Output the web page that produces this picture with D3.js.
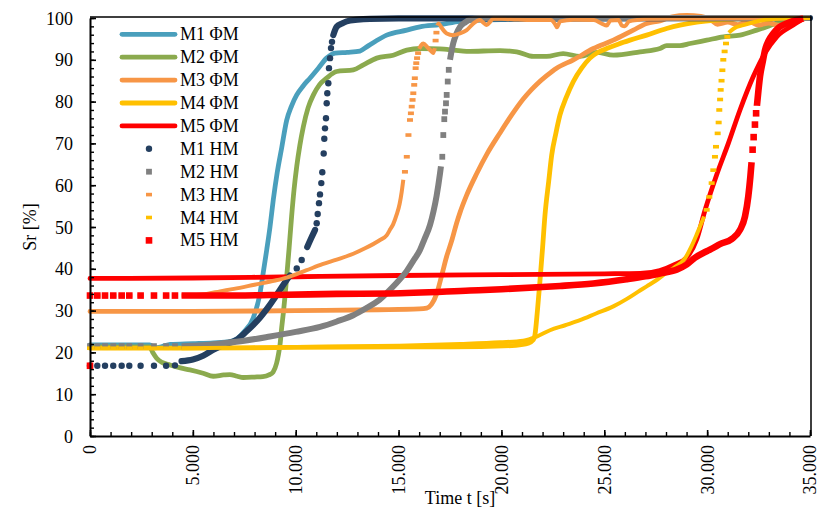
<!DOCTYPE html>
<html>
<head>
<meta charset="utf-8">
<script src="https://cdn.jsdelivr.net/npm/d3@7"></script>
<style>
  html, body { margin: 0; padding: 0; background: #fff; }
  svg { display: block; font-family: "Liberation Serif", "Times New Roman", serif; }
</style>
</head>
<body>
<svg id="chart" width="821" height="508"></svg>
<script>
// ---- axes ----
const xTickValues = [0, 5000, 10000, 15000, 20000, 25000, 30000, 35000];
const xTickLabels = ["0", "5.000", "10.000", "15.000", "20.000", "25.000", "30.000", "35.000"];
const yTickValues = [0, 10, 20, 30, 40, 50, 60, 70, 80, 90, 100];
const xTitle = "Time t [s]";
const yTitle = "Sr [%]";

// ---- series names ----
const phiNames = ["M1 ΦM", "M2 ΦM", "M3 ΦM", "M4 ΦM", "M5 ΦM"];
const hmNames = ["M1 HM", "M2 HM", "M3 HM", "M4 HM", "M5 HM"];

// ---- ΦM series: [time s, Sr %] ----
const m1Phi = [[0,21.8],[1000,21.8],[2000,21.8],[2900,21.8],[3160,21.1],[3500,21.4],[3900,21.9],[5000,22.1],[6000,22.3],[6800,22.6],[7130,23.2],[7500,25],[7940,28.3],[8260,34],[8420,39],[8590,44.5],[8750,50],[8910,56.5],[9100,63],[9320,69],[9560,75.5],[9800,79],[10050,81.6],[10370,83.8],[10690,85.6],[11100,88],[11500,90.4],[11910,91.6],[12500,91.8],[13120,92.1],[13450,93.1],[13900,94.5],[14420,95.9],[15400,97.1],[16040,97.9],[17000,98.4],[18000,99.2],[20000,99.6],[25000,99.8],[35000,100]];
const m2Phi = [[0,21.3],[2900,21.3],[3050,20],[3240,18.6],[3500,17.6],[3890,17.0],[4400,16.3],[4860,15.8],[5500,15.0],[5990,14.3],[6500,14.6],[6800,14.7],[7150,14.3],[7450,14.0],[8000,14.1],[8400,14.2],[8700,14.6],[8900,15.3],[9070,17.4],[9160,19.5],[9240,22],[9320,26],[9400,29.5],[9480,33.5],[9560,38],[9680,45],[9800,52.5],[9920,59],[10050,64.5],[10200,69.5],[10370,74],[10600,78.5],[10860,81.6],[11150,84],[11500,85.6],[11990,87.2],[12800,87.6],[13290,88.8],[13940,90.4],[14740,91.1],[15400,92.3],[16040,92.7],[17000,92.6],[17700,92.3],[18310,92.0],[19930,92.2],[20740,91.9],[21550,90.8],[22200,90.8],[23000,91.5],[23820,90.8],[24630,91.8],[25440,91.1],[26740,91.9],[27710,92.7],[28030,93.4],[28680,93.4],[29170,93.9],[29980,94.7],[30790,95.5],[31600,95.9],[32410,97.1],[32900,97.9],[33500,99],[34300,99.8]];
const m3Phi = [[0,29.8],[5000,29.8],[10000,30.0],[14000,30.2],[16000,30.4],[16370,30.6],[16600,31.5],[16850,34],[17100,38.5],[17340,43],[17600,47],[17820,50.9],[17990,53.5],[18300,57.5],[18800,62.8],[19300,67.5],[19930,72.5],[20500,76.8],[21060,80.6],[21450,82.8],[21710,84.1],[22200,86.2],[22680,88],[23500,90],[24470,92.7],[25440,94.7],[26410,97.1],[27060,98.7],[27700,99.3],[28300,100.3],[29000,100.6],[29700,100.4],[30200,99.5],[30500,98.5],[31000,99],[31500,98.4],[32000,99.2],[32500,98.3],[33000,98.8],[33500,98.2],[34000,99],[34500,99.3]];
const m4Phi = [[0,21.0],[5000,21.0],[10000,21.2],[15000,21.3],[19000,21.4],[20700,21.7],[21300,22.2],[21550,23.0],[21630,24.2],[21750,30],[21870,36.9],[22000,45],[22118,52.9],[22300,61],[22443,67.2],[22650,72.5],[22847,76.8],[23150,81],[23494,84.8],[23900,88],[24305,90.4],[24700,91.8],[25117,92.7],[25700,93.8],[26250,94.7],[27060,95.9],[28030,97.5],[28680,98.3],[29500,99],[30460,99.5],[31500,99.8],[35000,100]];
const m5Phi = [[0,37.7],[5000,37.8],[10000,38.1],[15000,38.4],[20000,38.6],[25000,38.8],[26740,38.9],[27700,39.6],[28355,40.9],[29006,42.7],[29492,47],[29896,54],[30464,62.5],[31030,70],[31597,78],[32243,86],[32812,91.6],[33380,95.5],[34187,98.3],[34600,99.6],[34800,99.9]];

// ---- HM series: isolated readings and dense runs ----
const m1HmDots = [[0,16.8],[355,16.8],[730,16.8],[1130,16.8],[1540,16.8],[1910,16.8],[2460,16.8],[3110,16.8],[3700,16.8],[4130,16.9],[10050,40.1],[10290,42.1],[11020,50.9],[11068,53.1],[11132,55.7],[11180,57.8],[11244,60.5],[11293,63.1],[11360,67.6],[11390,71.1],[11424,73.6],[11472,76.0],[11506,79.6],[11536,82.0],[11585,84.4],[11618,88.0],[11667,90.4],[11715,92.8],[11764,94.3]];
const m1HmRuns = [
  [[4450,17.9],[5000,18.3],[5500,19.2],[5990,20.6],[6480,21.8],[7130,23.0],[7600,25.0],[7940,26.6],[8260,28.3],[8600,30.4],[9000,33.2],[9240,35.0],[9560,37.3],[9720,38.4]],
  [[10560,45.2],[10750,47.3],[10940,49.3]],
  [[11827,95.9],[11992,97.9],[12250,98.7],[12478,99.2],[13000,99.6],[13611,99.8],[15000,99.9],[35000,100]]
];
const m2HmDots = [[0,21.5],[355,21.5],[730,21.5],[1130,21.5],[1540,21.5],[1910,21.5],[2460,21.5],[3110,21.5],[3700,21.5],[4130,21.5],[17125,66.8],[17174,72],[17222,75.8],[17257,77.6],[17305,79.6],[17339,81.6],[17390,84.8],[17440,87.6]];
const m2HmRuns = [
  [[4450,21.5],[5500,21.7],[6480,22.2],[7500,22.8],[8750,23.8],[10000,24.9],[11180,26.1],[12000,27.4],[12800,28.9],[13500,30.8],[14000,32.3],[14420,34.2],[14900,36.6],[15400,39.5],[15700,41.8],[16040,44.5],[16250,47],[16530,50.5],[16700,53.8],[16850,57.5],[17014,62.8],[17060,64.5]],
  [[17500,90],[17580,92.2],[17660,94],[17820,96.3],[17986,97.9],[18250,99],[18472,99.6],[18958,100],[35000,100]]
];
const m3HmDots = [[0,33.6],[355,33.6],[730,33.6],[1130,33.6],[1540,33.6],[1910,33.6],[2460,33.6],[3110,33.6],[3700,33.6],[4130,33.6],[15310,63.2],[15400,66.8],[15480,72],[15555,75.6],[15600,77.2],[15640,78.8],[15680,80.4],[15716,82],[15760,84],[15790,85.6],[15830,88],[15860,89.2],[15900,90.4],[15950,91.6],[16800,94.6],[16840,96.5]];
const m3HmRuns = [
  [[4450,33.6],[5670,34.0],[6320,34.6],[7000,35.2],[8000,36.2],[9000,37.2],[9560,37.9],[10500,39.6],[11300,41.1],[11990,42.2],[12800,43.6],[13370,44.9],[14100,46.9],[14420,48],[14600,49.5],[14740,50.7],[14910,53],[15050,55.5],[15152,58.4],[15230,61.3]],
  [[16000,92.6],[16100,93.5],[16202,93.9],[16400,93],[16600,92],[16688,91.6],[16760,92.8]],
  [[16880,98.2],[16950,98.7],[17100,97.6],[17339,96.3],[17660,95.9],[17986,96.3],[18311,97.1],[18640,98.7],[18958,99.5],[19120,98.9],[19284,98.3],[19450,99.1],[19605,99.9],[20500,99.7],[21500,99.5],[22400,99.5],[22600,98.6],[22700,97.8],[22850,99.2],[23500,99.6],[24500,99.5],[24900,98.6],[25117,98.2],[25300,99.4],[25700,99.5],[25850,98.2],[26000,98.0],[26200,99.2],[26700,99.6],[27200,99.8],[28000,99.9],[35000,100]]
];
const m4HmDots = [[0,21.0],[355,21.0],[730,21.0],[1130,21.0],[1540,21.0],[1910,21.0],[2460,21.0],[3110,21.0],[3700,21.0],[4130,21.0],[29978,54.1],[30105,57.2],[30220,60.5],[30300,63.6],[30380,66.8],[30430,69.2],[30512,72.4],[30560,75],[30590,78],[30630,80.5],[30658,82.8],[30700,85],[30740,87.5],[30785,90],[30850,92],[30917,93.9],[30980,95.5]];
const m4HmRuns = [
  [[4450,21.0],[10000,21.3],[15000,21.6],[18000,22.0],[19930,22.4],[21060,22.8],[21714,23.8],[22360,25.3],[23100,26.5],[23819,27.7],[24600,29.3],[25440,31.0],[26100,32.8],[26736,34.8],[27061,35.8],[27600,37.5],[28033,39.1],[28400,40.3],[28924,42.5],[29250,45.5],[29500,48.3],[29653,50.1],[29850,52.5]],
  [[31050,96.5],[31300,97.5],[31757,98.3],[32500,99.3],[33500,99.8],[35000,100]]
];
const m5HmDots = [[0,33.6],[355,33.6],[730,33.6],[1130,33.6],[1540,33.6],[1910,33.6],[2460,33.6],[3110,33.6],[3700,33.6],[4130,33.6],[32210,68.5],[32260,71.5],[32324,74.5],[32380,77.2],[0,16.8]];
const m5HmRuns = [
  [[4450,33.6],[6320,33.6],[9560,33.8],[12000,34.0],[14583,34.1],[18472,34.8],[20000,35.1],[22200,35.7],[22847,35.9],[24466,36.5],[26085,37.5],[27000,38.2],[27708,38.9],[28520,39.8],[29000,41],[29400,42.6],[29978,44.2],[30302,45],[30624,45.9],[31190,47.1],[31597,49.3],[31840,52.5],[32000,57.3],[32100,62],[32160,65.5]],
  [[32420,79],[32490,82.5],[32569,86],[32700,89.5],[32812,92.3],[33000,94.7],[33215,96.3],[33500,97.8],[33866,98.7],[34300,99.5],[34673,99.9]]
];

// ---- colours ----
const phiColors = ["#4A9FBC", "#8BAA4E", "#F79646", "#FFC000", "#FF0000"];
const hmColors = ["#243F60", "#808080", "#F79646", "#FFC000", "#FF0000"];

const svg = d3.select("#chart");
const W = 821, H = 508;
const plot = { left: 90, right: 810, top: 18, bottom: 436 };

const x = d3.scaleLinear().domain([0, 35000]).range([plot.left, plot.right]);
const y = d3.scaleLinear().domain([0, 100]).range([plot.bottom, plot.top]);

svg.append("rect").attr("width", W).attr("height", H).attr("fill", "#fff");

const line = d3.line().x(d => x(d[0])).y(d => y(d[1])).curve(d3.curveMonotoneX);

// ΦM curves
const phiData = [m1Phi, m2Phi, m3Phi, m4Phi, m5Phi];
const gPhi = svg.append("g");
phiData.forEach((s, i) => {
  gPhi.append("path").datum(s).attr("d", line)
    .attr("fill", "none").attr("stroke", phiColors[i])
    .attr("stroke-width", 4.8).attr("stroke-linejoin", "round").attr("stroke-linecap", "round");
});

// HM markers
const hmShapes = [
  { type: "circle", size: 3.2, band: 6.2, cap: "round" },
  { type: "square", size: 5.8, band: 6.0, cap: "butt" },
  { type: "dash", w: 6, h: 3.6, band: 4.0, cap: "butt" },
  { type: "dash", w: 6, h: 3.6, band: 4.0, cap: "butt" },
  { type: "square", size: 6.6, band: 6.6, cap: "butt" }
];

function drawMarker(g, shape, color, cx, cy) {
  if (shape.type === "circle") {
    g.append("circle").attr("cx", cx).attr("cy", cy).attr("r", shape.size).attr("fill", color);
  } else if (shape.type === "square") {
    g.append("rect").attr("x", cx - shape.size / 2).attr("y", cy - shape.size / 2)
      .attr("width", shape.size).attr("height", shape.size).attr("fill", color);
  } else {
    g.append("rect").attr("x", cx - shape.w / 2).attr("y", cy - shape.h / 2)
      .attr("width", shape.w).attr("height", shape.h).attr("fill", color);
  }
}

const hmDots = [m1HmDots, m2HmDots, m3HmDots, m4HmDots, m5HmDots];
const hmRuns = [m1HmRuns, m2HmRuns, m3HmRuns, m4HmRuns, m5HmRuns];
const gHm = svg.append("g");
hmDots.forEach((dots, i) => {
  const g = gHm.append("g");
  const shape = hmShapes[i];
  hmRuns[i].forEach(run => {
    g.append("path").datum(run).attr("d", line)
      .attr("fill", "none").attr("stroke", hmColors[i])
      .attr("stroke-width", shape.band).attr("stroke-linejoin", "round").attr("stroke-linecap", shape.cap);
  });
  dots.forEach(d => drawMarker(g, shape, hmColors[i], x(d[0]), y(d[1])));
});

// frame (top and right)
svg.append("path")
  .attr("d", `M${plot.left},${plot.top - 1}H${plot.right + 1}V${plot.bottom}`)
  .attr("fill", "none").attr("stroke", "#000").attr("stroke-width", 1.5);

// x axis
const fontSize = 18;
const gx = svg.append("g").attr("transform", `translate(0,${plot.bottom})`);
gx.call(d3.axisBottom(x).tickValues(d3.range(0, 35001, 1000)).tickSize(-4).tickSizeOuter(0).tickFormat(""));
gx.select(".domain").remove();
gx.selectAll(".tick line").attr("stroke", "#000").attr("stroke-width", 1.4);
const gxMajor = svg.append("g").attr("transform", `translate(0,${plot.bottom})`);
gxMajor.call(d3.axisBottom(x).tickValues(xTickValues).tickSize(-6).tickSizeOuter(0)
  .tickFormat((d, i) => xTickLabels[i]));
gxMajor.select(".domain").attr("stroke", "#000").attr("stroke-width", 2);
gxMajor.selectAll(".tick line").attr("stroke", "#000").attr("stroke-width", 1.6);
gxMajor.selectAll(".tick text")
  .attr("font-family", "Liberation Serif").attr("font-size", fontSize).attr("fill", "#000")
  .attr("text-anchor", "end").attr("transform", "rotate(-90)")
  .attr("x", -9).attr("y", 0).attr("dy", "0.33em");

// y axis
const gy = svg.append("g").attr("transform", `translate(${plot.left},0)`);
gy.call(d3.axisLeft(y).tickValues(d3.range(0, 101, 2)).tickSize(-4).tickSizeOuter(0).tickFormat(""));
gy.select(".domain").remove();
gy.selectAll(".tick line").attr("stroke", "#000").attr("stroke-width", 1.4);
const gyMajor = svg.append("g").attr("transform", `translate(${plot.left},0)`);
gyMajor.call(d3.axisLeft(y).tickValues(yTickValues).tickSize(-6).tickSizeOuter(0).tickFormat(d3.format("d")));
gyMajor.select(".domain").attr("stroke", "#000").attr("stroke-width", 2);
gyMajor.selectAll(".tick line").attr("stroke", "#000").attr("stroke-width", 1.6);
gyMajor.selectAll(".tick text")
  .attr("font-family", "Liberation Serif").attr("font-size", fontSize).attr("fill", "#000")
  .attr("x", -17).attr("dy", "0.34em");

// titles
svg.append("text").attr("x", 460).attr("y", 504).attr("text-anchor", "middle")
  .attr("font-size", 18).attr("fill", "#000").text(xTitle);
svg.append("text").attr("transform", `translate(36,${(plot.top + plot.bottom) / 2}) rotate(-90)`)
  .attr("text-anchor", "middle").attr("font-size", 18).attr("fill", "#000").text(yTitle);

// legend
const legY0 = 34.3, legStep = 22.9;
const gl = svg.append("g");
phiNames.forEach((name, i) => {
  const ly = legY0 + i * legStep;
  gl.append("line").attr("x1", 122).attr("x2", 175).attr("y1", ly).attr("y2", ly)
    .attr("stroke", phiColors[i]).attr("stroke-width", 4.8).attr("stroke-linecap", "round");
  gl.append("text").attr("x", 180).attr("y", ly + 6).attr("font-size", 18).attr("fill", "#000").text(name);
});
hmNames.forEach((name, i) => {
  const ly = legY0 + (i + 5) * legStep;
  drawMarker(gl, hmShapes[i], hmColors[i], 149, ly);
  gl.append("text").attr("x", 180).attr("y", ly + 6).attr("font-size", 18).attr("fill", "#000").text(name);
});
</script>
</body>
</html>
